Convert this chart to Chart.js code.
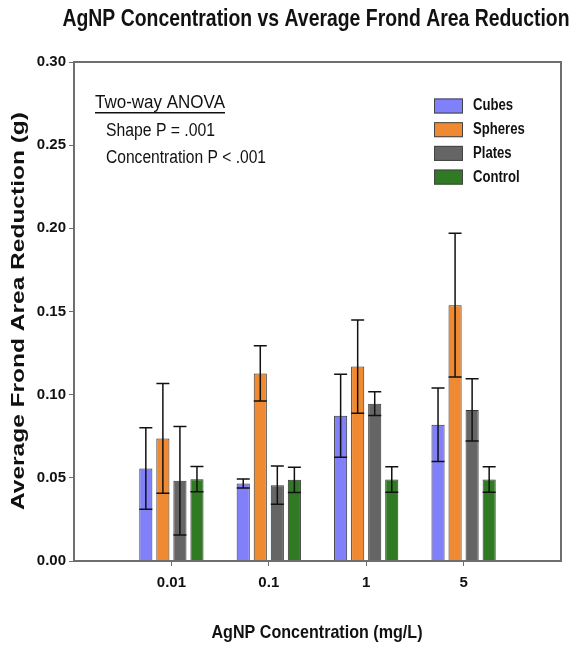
<!DOCTYPE html>
<html>
<head>
<meta charset="utf-8">
<script src="https://cdn.jsdelivr.net/npm/chart.js@4.4.1/dist/chart.umd.min.js"></script>
<style>
  html, body { margin: 0; padding: 0; background: #fff; }
  #wrap { width: 574px; height: 648px; position: relative; }
</style>
</head>
<body>
<div id="wrap"><canvas id="chart" width="574" height="648"></canvas></div>
<script>
var categories = ['0.01', '0.1', '1', '5'];
var seriesNames = ['Cubes', 'Spheres', 'Plates', 'Control'];
var cubes = [0.0556, 0.0466, 0.0873, 0.0819];
var spheres = [0.0737, 0.1128, 0.1169, 0.1538];
var plates = [0.0482, 0.0456, 0.0946, 0.0908];
var control = [0.0492, 0.0488, 0.0490, 0.0490];
var cubesErr = [0.0245, 0.0027, 0.0249, 0.0221];
var spheresErr = [0.0330, 0.0166, 0.0280, 0.0432];
var platesErr = [0.0326, 0.0115, 0.0072, 0.0187];
var controlErr = [0.0076, 0.0076, 0.0077, 0.0077];
var yTicks = [0, 0.05, 0.10, 0.15, 0.20, 0.25, 0.30];

var colors = ['#8080fa', '#f08a32', '#656565', '#2f7a22'];
var fam = "'Liberation Sans', Arial, sans-serif";

function points(values) {
    return values.map(function(v, i) { return { x: i + 1, y: v }; });
}

var allValues = [cubes, spheres, plates, control];
var allErrs = [cubesErr, spheresErr, platesErr, controlErr];

var datasets = seriesNames.map(function(name, k) {
    return {
        label: name,
        data: points(allValues[k]),
        errors: allErrs[k],
        backgroundColor: colors[k],
        borderColor: '#333333',
        borderWidth: 1,
        categoryPercentage: 0.70,
        barPercentage: 0.77
    };
});

// draws text squeezed/stretched horizontally to a given width (the original uses a narrow face)
function fitText(ctx, text, x, y, width, align) {
    var m = ctx.measureText(text).width;
    var sx = width / m;
    ctx.save();
    ctx.translate(x, y);
    ctx.scale(sx, 1);
    ctx.textAlign = align || 'left';
    ctx.fillText(text, 0, 0);
    ctx.restore();
    return width;
}

// error bars, frame, titles, note and legend
var extras = {
    id: 'extras',
    afterDatasetsDraw: function(chart) {
        var ctx = chart.ctx;
        var y = chart.scales.y;
        ctx.save();
        ctx.strokeStyle = '#111';
        ctx.lineWidth = 1.5;
        chart.data.datasets.forEach(function(ds, k) {
            var meta = chart.getDatasetMeta(k);
            meta.data.forEach(function(bar, i) {
                var v = ds.data[i].y, e = ds.errors[i];
                var top = y.getPixelForValue(v + e), bot = y.getPixelForValue(v - e);
                ctx.beginPath();
                ctx.moveTo(bar.x, top); ctx.lineTo(bar.x, bot);
                ctx.moveTo(bar.x - 6.5, top); ctx.lineTo(bar.x + 6.5, top);
                ctx.moveTo(bar.x - 6.5, bot); ctx.lineTo(bar.x + 6.5, bot);
                ctx.stroke();
            });
        });
        ctx.restore();
    },
    afterDraw: function(chart) {
        var ctx = chart.ctx;
        var a = chart.chartArea;
        ctx.save();
        // frame
        ctx.strokeStyle = '#6e6e6e';
        ctx.lineWidth = 2;
        ctx.strokeRect(a.left, a.top, a.right - a.left, a.bottom - a.top);

        ctx.fillStyle = '#111';
        ctx.textBaseline = 'middle';

        // main title
        ctx.font = 'bold 24px ' + fam;
        fitText(ctx, 'AgNP Concentration vs Average Frond Area Reduction', 316, 19, 507, 'center');

        // x title
        ctx.font = 'bold 19px ' + fam;
        fitText(ctx, 'AgNP Concentration (mg/L)', 317, 633, 211, 'center');

        // y title
        ctx.save();
        ctx.translate(19, 311);
        ctx.rotate(-Math.PI / 2);
        ctx.font = 'bold 18px ' + fam;
        fitText(ctx, 'Average Frond Area Reduction (g)', 0, 0, 398, 'center');
        ctx.restore();

        // ANOVA note
        ctx.font = '18px ' + fam;
        fitText(ctx, 'Two-way ANOVA', 95, 103, 130);
        ctx.fillRect(95, 112, 130, 1.5);
        fitText(ctx, 'Shape P = .001', 106, 131, 109);
        fitText(ctx, 'Concentration P < .001', 106, 158, 160);

        // legend
        ctx.font = 'bold 16px ' + fam;
        chart.data.datasets.forEach(function(ds, k) {
            var cy = 106 + k * 23.7;
            ctx.fillStyle = ds.backgroundColor;
            ctx.fillRect(434, cy - 7.5, 29, 15);
            ctx.strokeStyle = '#444';
            ctx.lineWidth = 1;
            ctx.strokeRect(434.5, cy - 7, 28, 14);
            ctx.fillStyle = '#111';
            var w = ctx.measureText(ds.label).width;
            fitText(ctx, ds.label, 473, cy, w * 0.82);
        });
        ctx.restore();
    }
};

var ctx = document.getElementById('chart').getContext('2d');
var chart = new Chart(ctx, {
    type: 'bar',
    data: { datasets: datasets },
    options: {
        responsive: false,
        animation: false,
        layout: { padding: { left: 0, right: 13, top: 62, bottom: 0 } },
        plugins: {
            legend: { display: false },
            tooltip: { enabled: false }
        },
        scales: {
            x: {
                type: 'linear',
                min: 0,
                max: 5,
                offset: false,
                afterFit: function(s) { s.height = 87; },
                afterBuildTicks: function(s) {
                    s.ticks = categories.map(function(c, i) { return { value: i + 1 }; });
                },
                ticks: {
                    callback: function(v) { return categories[v - 1]; },
                    color: '#111',
                    font: { family: fam, size: 15, weight: 'bold' },
                    padding: 8
                },
                grid: { offset: false, drawOnChartArea: false, tickLength: 5, color: '#6e6e6e', lineWidth: 1 },
                border: { display: false }
            },
            y: {
                min: 0,
                max: 0.30,
                afterFit: function(s) { s.width = 74; },
                afterBuildTicks: function(s) {
                    s.ticks = yTicks.map(function(v) { return { value: v }; });
                },
                ticks: {
                    callback: function(v) { return v.toFixed(2); },
                    color: '#111',
                    font: { family: fam, size: 15, weight: 'bold' },
                    padding: 3
                },
                grid: { drawOnChartArea: false, tickLength: 5, color: '#6e6e6e', lineWidth: 1 },
                border: { display: false }
            }
        }
    },
    plugins: [extras]
});
</script>
</body>
</html>
